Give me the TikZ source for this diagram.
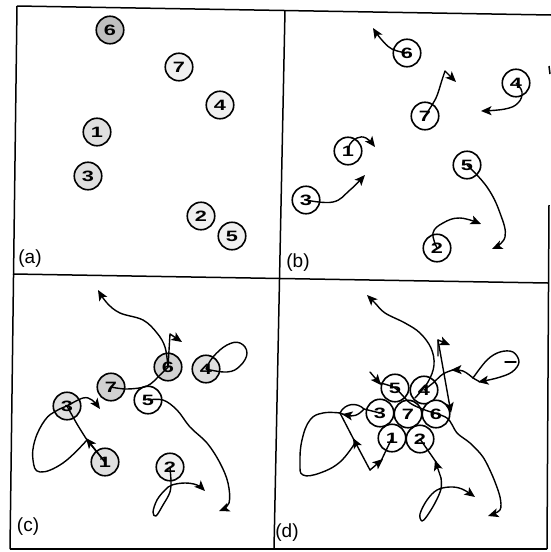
\documentclass[tikz,border=0pt]{standalone}
\usepackage{fontspec}
\setmainfont{Liberation Sans}
\newfontfamily\digitfont[FakeStretch=1.45]{Liberation Sans}
\usetikzlibrary{arrows.meta,decorations.markings}
\tikzset{
  ball/.style={circle,draw,line width=1.6pt,minimum size=27.5pt,inner sep=0pt,
    font=\digitfont\bfseries\fontsize{15}{15}\selectfont},
  traj/.style={line width=1.4pt,line cap=round,line join=round},
  framel/.style={line width=1.5pt},
  lab/.style={font=\fontsize{19}{19}\selectfont}
}
\begin{document}
\begin{tikzpicture}[x=1pt,y=-1pt,>={Stealth[length=10.5pt,width=9pt,inset=2.5pt]}]
\useasboundingbox (0,0) rectangle (551,552);
\fill[white] (0,0) rectangle (551,552);

% frame
\draw[framel] (17,6) -- (551,15);
\draw[framel] (17,6) -- (10,549);
\draw[framel] (10,549) -- (547,549);
\draw[framel] (549,205) -- (547,549);
\draw[framel] (549,66) -- (550,74);
\draw[framel] (285,10) -- (274,549);
\draw[framel] (13,274) -- (548,283);

% ---------- panel (a)
\node[ball,fill=gray!50] (a6) at (110,30) {6};
\node[ball,fill=gray!12] (a7) at (179,67) {7};
\node[ball,fill=gray!12] (a4) at (220,105) {4};
\node[ball,fill=gray!25] (a1) at (97,132) {1};
\node[ball,fill=gray!25] (a3) at (88,176) {3};
\node[ball,fill=gray!12] (a2) at (201,216) {2};
\node[ball,fill=gray!12] (a5) at (232,236) {5};
\node[lab] (la) at (30,259) {(a)};

% ---------- panel (b)
\node[ball,fill=white] (b6) at (407,53) {6};
\node[ball,fill=white] (b7) at (425,116) {7};
\node[ball,fill=white] (b4) at (516,83) {4};
\node[ball,fill=white] (b1) at (348,151) {1};
\node[ball,fill=white] (b3) at (306,200) {3};
\node[ball,fill=white] (b5) at (467,165) {5};
\node[ball,fill=white] (b2) at (437,248) {2};
\node[lab] (lb) at (298,263) {(b)};

\draw[traj,->] plot[smooth,tension=0.7] coordinates {(b6.center) (392,49) (381,39) (373,28)};
\draw[traj,->] plot[smooth,tension=0.5] coordinates {(b7.center) (436,98) (442,80) (445,71)} -- (456,82);
\draw[traj,->] plot[smooth,tension=0.7] coordinates {(b4.center) (522,92) (518,103) (505,109) (481,111)};
\draw[traj,->] plot[smooth,tension=0.7] coordinates {(b1.center) (350,144) (357,138) (366,138) (375,147)};
\draw[traj,->] plot[smooth,tension=0.7] coordinates {(b3.center) (333,202) (350,190) (365,175)};
\draw[traj,->] plot[smooth,tension=0.7] coordinates {(b5.center) (487,187) (500,213) (505,237) (492,249)};
\draw[traj,->] plot[smooth,tension=0.7] coordinates {(b2.center) (433,233) (443,223) (460,218) (481,224)};

% ---------- panel (c)
\node[ball,fill=gray!35] (c6) at (168,367) {6};
\node[ball,fill=gray!25] (c4) at (206,369) {4};
\node[ball,fill=gray!35] (c7) at (111,387) {7};
\node[ball,fill=white] (c5) at (148,400) {5};
\node[ball,fill=gray!25] (c3) at (67,406) {3};
\node[ball,fill=gray!25] (c1) at (105,462) {1};
\node[ball,fill=gray!12] (c2) at (170,467) {2};
\node[lab] (lc) at (28,527) {(c)};

\draw[traj,->] plot[smooth,tension=0.6] coordinates {(c6.center) (165,347) (157,333) (143,320) (120,313) (107,303) (98,290)};
\draw[traj,->] (c6.center) -- (170,334) -- (182,342);
\draw[traj] plot[smooth,tension=0.6] coordinates {(c7.center) (127,389) (147,386) (160,375) (c6.center)};
\draw[traj,->] plot[smooth,tension=0.6] coordinates {(c3.center) (83,398) (92,400) (100,409)};
\draw[traj] plot[smooth,tension=0.7] coordinates {(c4.center) (213,357) (227,345) (240,343) (247,353) (240,366) (227,372) (c4.center)};
\draw[traj,->] plot[smooth,tension=0.6] coordinates {(c5.center) (163,400) (177,410) (190,427) (207,443) (220,463) (228,483) (229,503) (219,511)};
\draw[traj] (c1.center) -- (87,440);
\draw[traj,->] (c1.center) -- (86,438);
\draw[traj] plot[smooth,tension=0.6] coordinates {(87,440) (77,424) (c3.center)};
\draw[traj] plot[smooth,tension=0.7] coordinates {(87,440) (63,463) (40,472) (33,460) (35,440) (45,420) (56,411) (c3.center)};
\draw[traj] (c2.center) -- (171,480);
\draw[traj,->] plot[smooth,tension=0.6] coordinates {(171,480) (170,492) (163,505) (156,516) (153,512) (157,500) (165,490) (172,485) (185,483) (197,485) (205,491)};

% ---------- panel (d)
\node[ball,fill=white] (d5) at (395,388) {5};
\node[ball,fill=white] (d4) at (424,390) {4};
\node[ball,fill=white] (d3) at (380,413) {3};
\node[ball,fill=white] (d7) at (408,414) {7};
\node[ball,fill=white] (d6) at (436,414) {6};
\node[ball,fill=white] (d1) at (392,438) {1};
\node[ball,fill=white] (d2) at (420,439) {2};
\node[lab] (ld) at (287,533) {(d)};

\draw[traj,->] plot[smooth,tension=0.6] coordinates {(415,398) (428,382) (434,365) (431,348) (420,333) (405,323) (385,313) (375,303) (367,295)};
\draw[traj,->] (438,356) -- (438,340) -- (450,345);
\draw[traj,->] (438,340) -- (451,413);
% loop of 4
\draw[traj,->] plot[smooth,tension=0.6] coordinates {(473,378) (487,360) (500,352) (513,352) (519,362) (512,372) (497,378) (478,382)};
\draw[traj] (480,382) -- (473,378);
\draw[traj,->] plot[smooth,tension=0.6] coordinates {(473,378) (463,371) (451,370)};
\draw[traj] plot[smooth,tension=0.6] coordinates {(453,370) (443,374) (433,383) (d4.center)};
\draw[traj] (505,362) -- (516,362);
% eye left of 3
\draw[traj] (340,413) .. controls (345,403) and (357,402) .. (364,409);
\draw[traj] (364,409) .. controls (358,416) and (352,417) .. (348,415);
\draw[traj,->] (351,415.7) -- (342,414.2);
\draw[traj] (344,414.5) -- (340,413);
\draw[traj] (364,409) -- (d3.center);
% zigzag to 1 and big loop
\draw[traj,->] (370,470) -- (353,438);
\draw[traj] (354,440) -- (340,413);
\draw[traj,->] (370,470) -- (383,459);
\draw[traj] (381,461) -- (d1.center);
\draw[traj] plot[smooth,tension=0.7] coordinates {(355,443) (340,462) (320,473) (303,475) (300,463) (302,440) (310,420) (323,413) (340,413)};
% 5 path
\draw[traj,->] (370,372) -- (381,385);
\draw[traj,->] plot[smooth,tension=0.5] coordinates {(380,383) (d5.center) (410,403) (425,410) (447,418) (457,433) (470,443) (483,457) (493,477) (500,497) (500,510) (488,516)};
% 2 path
\draw[traj,->] (441,478) -- (435,460);
\draw[traj] (436,462) -- (d2.center);
\draw[traj,->] plot[smooth,tension=0.6] coordinates {(441,478) (441,489) (435,503) (427,516) (422,521) (420,514) (427,500) (437,490) (450,487) (462,489) (475,497)};
\end{tikzpicture}
\end{document}
